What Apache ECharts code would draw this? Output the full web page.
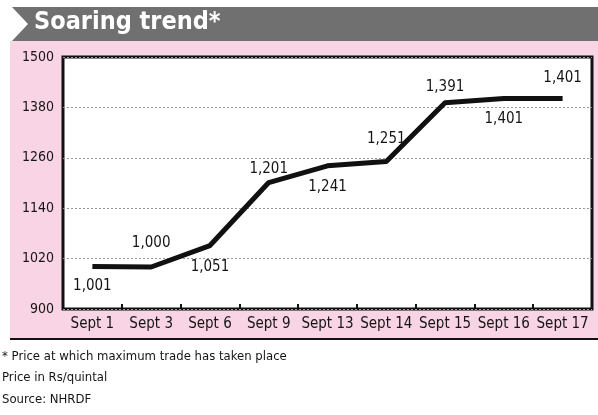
<!DOCTYPE html>
<html>
<head>
<meta charset="utf-8">
<script src="https://cdn.jsdelivr.net/npm/echarts@6/dist/echarts.min.js"></script>
<style>
html,body{margin:0;padding:0;background:#fff;}
#chart{width:598px;height:415px;}
</style>
</head>
<body>
<div id="chart"></div>
<script>
const categories = ['Sept 1','Sept 3','Sept 6','Sept 9','Sept 13','Sept 14','Sept 15','Sept 16','Sept 17'];
const prices = [1001, 1000, 1051, 1201, 1241, 1251, 1391, 1401, 1401];
const yTicks = [900, 1020, 1140, 1260, 1380, 1500];
const titleText = 'Soaring trend*';
const notes = ['* Price at which maximum trade has taken place', 'Price in Rs/quintal', 'Source: NHRDF'];

// label placement (style only)
const labelPlace = ['bottom','top','bottom','top','bottom','top','top','bottom','top'];
const labelDist = [12, 16, 14, 6, 14, 15, 8, 13, 13];
const labelDx = [0, 0, 0, -1, 0, -4, -4, 0, 0];

const FONT = '"DejaVu Sans Condensed", "Liberation Sans Narrow", sans-serif';
const chart = echarts.init(document.getElementById('chart'), null, {renderer:'canvas'});

const seriesData = prices.map((v, i) => ({
  value: v,
  label: {
    show: true,
    position: labelPlace[i],
    distance: labelDist[i],
    offset: [labelDx[i], 0]
  }
}));

chart.setOption({
  backgroundColor: '#ffffff',
  animation: false,
  title: {
    text: titleText,
    left: 29, top: 5,
    textStyle: {color:'#ffffff', fontFamily: FONT, fontWeight:'bold', fontSize:25}
  },
  graphic: [
    {type:'rect', z:-1, shape:{x:10, y:41, width:588, height:297}, style:{fill:'#f8d4e5'}},
    {type:'polygon', z:-1, shape:{points:[[12,7],[598,7],[598,41],[12,41],[28,24]]}, style:{fill:'#707070'}},
    {type:'line', z:-1, shape:{x1:10, y1:339, x2:598, y2:339}, style:{stroke:'#111', lineWidth:2}},
    {type:'text', left:2, top:350, style:{text:notes[0], fill:'#151515', font:'13px ' + FONT}},
    {type:'text', left:2, top:371, style:{text:notes[1], fill:'#151515', font:'13px ' + FONT}},
    {type:'text', left:2, top:393, style:{text:notes[2], fill:'#151515', font:'13px ' + FONT}}
  ],
  grid: {
    left:63, top:57, right:6, bottom:106,
    show:true, backgroundColor:'#ffffff', borderColor:'#111', borderWidth:3
  },
  xAxis: {
    type:'category',
    data: categories,
    boundaryGap: true,
    axisLine:{show:false},
    axisTick:{show:true, inside:true, length:5, interval:0, lineStyle:{color:'#111', width:2}},
    axisLabel:{interval:0, margin:8, color:'#151515', fontFamily:FONT, fontSize:15},
    splitLine:{show:false}
  },
  yAxis: {
    type:'value',
    min: yTicks[0], max: yTicks[yTicks.length-1], interval: yTicks[1]-yTicks[0],
    axisLine:{show:false},
    axisTick:{show:false},
    axisLabel:{margin:9, color:'#151515', fontFamily:FONT, fontSize:14, formatter: v => String(v)},
    splitLine:{show:true, lineStyle:{color:'#999', type:[2,2], width:1}}
  },
  series: [{
    type:'line',
    data: seriesData,
    symbol:'circle',
    symbolSize: 0,
    showSymbol: true,
    itemStyle:{color:'#111'},
    lineStyle:{color:'#111', width:5, join:'round'},
    label:{show:true, color:'#151515', fontFamily:FONT, fontSize:15,
      formatter: p => p.value.toLocaleString('en-US')},
    labelLayout:{hideOverlap:false},
    z: 3
  }]
});
</script>
</body>
</html>
